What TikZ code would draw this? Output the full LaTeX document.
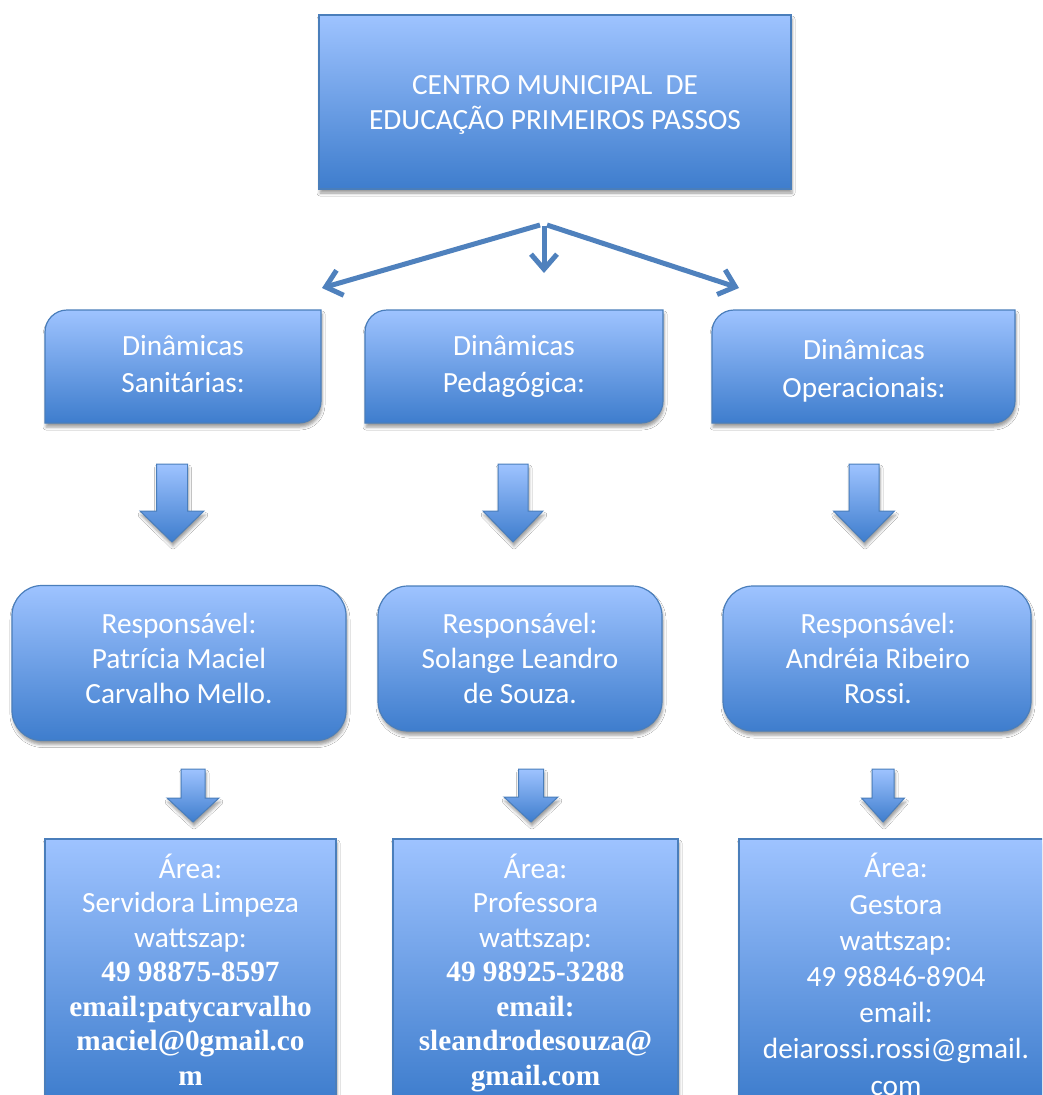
\documentclass[tikz,border=0pt]{standalone}
\usepackage{fontspec}
\setmainfont{Carlito}
\newfontfamily\tnr{Liberation Serif}
\usetikzlibrary{arrows.meta,shadows.blur}
\definecolor{gtop}{RGB}{158,195,255}
\definecolor{gbot}{RGB}{62,125,205}
\definecolor{bord}{RGB}{74,126,187}
\definecolor{lnk}{RGB}{79,129,189}
\tikzset{
  box/.style={draw=bord, line width=1.2pt, top color=gtop, bottom color=gbot,
    blur shadow={shadow xshift=1pt, shadow yshift=-4pt, shadow blur radius=3pt, shadow opacity=40}},
  sbox/.style={box, rectangle, inner sep=0pt},
  rbox/.style={box, rectangle, rounded corners=30pt, inner sep=0pt},
  txt/.style={text=white, align=center, inner sep=0pt, font=\fontsize{29.3}{35}\selectfont},
  txtb/.style={txt, font=\fontsize{29.3}{34.5}\selectfont},
  link/.style={draw=lnk, line width=5pt, -{Straight Barb[length=15pt,width=26pt]}},
  barrow/.style={box, line width=1pt}
}
\newcommand\dnarrow[6]{%
  \path[barrow] (#1-#5,#2) -- (#1+#5,#2) -- (#1+#5,#3) -- (#1+#6,#3) -- (#1,#4)
    -- (#1-#6,#3) -- (#1-#5,#3) -- cycle;}
\newcommand\diagbox[4]{% x1 y1 x2 y2, rounded top-left and bottom-right
  \path[box] (#1,#4) -- (#1,#2+22) .. controls (#1,#2+9.9) and (#1+9.9,#2) .. (#1+22,#2)
    -- (#3,#2) -- (#3,#4-22) .. controls (#3,#4-9.9) and (#3-9.9,#4) .. (#3-22,#4) -- cycle;}
\begin{document}
\begin{tikzpicture}[x=1pt,y=-1pt]
\useasboundingbox (0,0) rectangle (1042,1095);
\clip (0,0) rectangle (1042,1095);
\fill[white] (0,0) rectangle (1042,1095);

% top box
\node[sbox, minimum width=472pt, minimum height=174pt] (centro) at (555,102) {};
\node[txt, anchor=base] (centrotxt) at (555,129) {CENTRO MUNICIPAL\ \ DE\\EDUCAÇÃO PRIMEIROS PASSOS};

% connectors
\coordinate (hubL) at (540,225);
\coordinate (hubM) at (544,226);
\coordinate (hubR) at (547,225);
\coordinate (tipL) at (322,288);
\coordinate (tipM) at (544,273);
\coordinate (tipR) at (739,288);
\draw[link] (hubL) -- (tipL);
\draw[link] (hubM) -- (tipM);
\draw[link] (hubR) -- (tipR);

% level 2
\diagbox{45}{310}{321}{423}
\node[txt, anchor=base, font=\fontsize{29.3}{37}\selectfont] (san) at (183,392) {Dinâmicas\\Sanitárias:};
\diagbox{365}{310}{663}{423}
\node[txt, anchor=base, font=\fontsize{29.3}{37}\selectfont] (ped) at (514,392) {Dinâmicas\\Pedagógica:};
\diagbox{712}{310}{1015}{423}
\node[txt, anchor=base, font=\fontsize{29.3}{38}\selectfont] (ope) at (864,397) {Dinâmicas\\Operacionais:};

% big block arrows
\dnarrow{172}{464}{511}{542}{15.5}{32}
\dnarrow{513}{464}{511}{542}{15}{30}
\dnarrow{864}{464}{511}{542}{15}{30.5}

% level 3
\node[rbox, minimum width=334pt, minimum height=155pt] (r1) at (179,663) {};
\node[txt, anchor=base] (r1txt) at (179,703) {Responsável:\\Patrícia Maciel\\Carvalho Mello.};
\node[rbox, minimum width=284pt, minimum height=145pt] (r2) at (520,658.5) {};
\node[txt, anchor=base] (r2txt) at (520,703) {Responsável:\\Solange Leandro\\de Souza.};
\node[rbox, minimum width=308pt, minimum height=145pt] (r3) at (877,658.5) {};
\node[txt, anchor=base] (r3txt) at (878,703) {Responsável:\\Andréia Ribeiro\\Rossi.};

% small block arrows
\dnarrow{193}{769}{798}{822}{12}{26}
\dnarrow{531}{769}{797}{822}{12.5}{27}
\dnarrow{883}{769}{798}{822}{11}{21.5}

% bottom boxes
\node[sbox, minimum width=291pt, minimum height=262pt] (a1) at (190.5,970) {};
\node[txtb, anchor=base] (a1txt) at (190.5,1085) {Área:\\Servidora Limpeza\\wattszap:\\{\tnr\bfseries 49 98875-8597}\\{\tnr\bfseries email:patycarvalho}\\{\tnr\bfseries maciel@0gmail.co}\\{\tnr\bfseries m}};
\node[sbox, minimum width=285pt, minimum height=262pt] (a2) at (535.5,970) {};
\node[txtb, anchor=base] (a2txt) at (535.5,1085) {Área:\\Professora\\wattszap:\\{\tnr\bfseries 49 98925-3288}\\{\tnr\bfseries email:}\\{\tnr\bfseries sleandrodesouza@}\\{\tnr\bfseries gmail.com}};
\node[sbox, minimum width=314pt, minimum height=262pt] (a3) at (896,970) {};
\node[txt, anchor=base, font=\fontsize{29.3}{36.2}\selectfont] (a3txt) at (896,1095) {Área:\\Gestora\\wattszap:\\49 98846-8904\\email:\\deiarossi.rossi@gmail.\\com};
\end{tikzpicture}
\end{document}
